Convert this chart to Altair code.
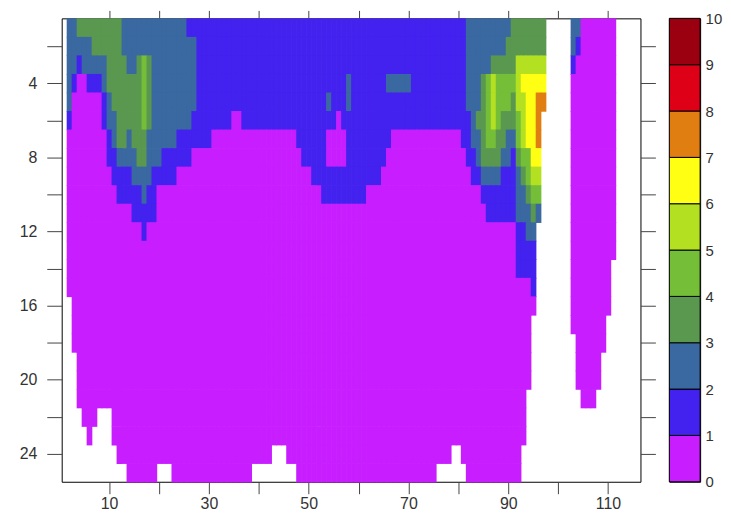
import altair as alt
import pandas as pd

# colour levels 0..9 (value bins 0-1, 1-2, ... 9-10)
LEVELS = list(range(10))
LEVEL_COLORS = ["#C81EFF", "#4321EF", "#3A68A0", "#5A9850", "#74BE38",
                "#B3E021", "#FFFF14", "#E07E12", "#DD0016", "#9A0010"]
CBAR_LABELS = list(range(0, 11))

X_TICKS = list(range(10, 111, 10))
Y_TICKS = list(range(2, 25, 2))

# each row: (first column, last column, level); columns 1..116, rows 1..25
ROW_01 = [(2, 3, 2), (4, 12, 3), (13, 25, 2), (26, 81, 1), (82, 90, 2), (91, 97, 3),
          (103, 104, 2), (105, 111, 0)]
ROW_02 = [(2, 6, 2), (7, 12, 3), (13, 27, 2), (28, 81, 1), (82, 89, 2), (90, 97, 3),
          (103, 103, 2), (104, 104, 1), (105, 111, 0)]
ROW_03 = [(2, 3, 2), (4, 4, 1), (5, 9, 2), (10, 13, 3), (14, 15, 2), (16, 16, 3), (17, 17, 4),
          (18, 18, 3), (19, 27, 2), (28, 81, 1), (82, 86, 2), (87, 91, 3), (92, 97, 5),
          (103, 103, 1), (104, 111, 0)]
ROW_04 = [(2, 2, 2), (3, 3, 1), (4, 5, 0), (6, 8, 1), (9, 9, 2), (10, 16, 3), (17, 17, 4),
          (18, 18, 3), (19, 27, 2), (28, 57, 1), (58, 58, 2), (59, 65, 1), (66, 70, 2),
          (71, 81, 1), (82, 84, 2), (85, 85, 3), (86, 86, 4), (87, 87, 5), (88, 91, 4),
          (92, 92, 5), (93, 97, 6), (103, 111, 0)]
ROW_05 = [(2, 2, 2), (3, 8, 0), (9, 9, 1), (10, 10, 2), (11, 16, 3), (17, 17, 4), (18, 18, 3),
          (19, 27, 2), (28, 53, 1), (54, 54, 2), (55, 57, 1), (58, 58, 2), (59, 81, 1),
          (82, 84, 2), (85, 85, 3), (86, 86, 4), (87, 87, 5), (88, 90, 4), (91, 91, 3),
          (92, 93, 5), (94, 95, 6), (96, 97, 7), (103, 111, 0)]
ROW_06 = [(2, 2, 1), (3, 8, 0), (9, 9, 1), (10, 11, 2), (12, 16, 3), (17, 17, 4), (18, 18, 3),
          (19, 26, 2), (27, 34, 1), (35, 36, 0), (37, 55, 1), (56, 56, 0), (57, 82, 1),
          (83, 83, 2), (84, 85, 3), (86, 86, 4), (87, 87, 5), (88, 88, 4), (89, 91, 3),
          (92, 92, 4), (93, 93, 5), (94, 95, 6), (96, 96, 7), (103, 111, 0)]
ROW_07 = [(2, 9, 0), (10, 10, 1), (11, 11, 2), (12, 13, 3), (14, 14, 2), (15, 17, 3),
          (18, 23, 2), (24, 30, 1), (31, 47, 0), (48, 53, 1), (54, 57, 0), (58, 66, 1),
          (67, 80, 0), (81, 82, 1), (83, 84, 2), (85, 85, 3), (86, 87, 4), (88, 89, 3),
          (90, 91, 2), (92, 92, 4), (93, 93, 5), (94, 95, 6), (96, 96, 7), (103, 111, 0)]
ROW_08 = [(2, 9, 0), (10, 11, 1), (12, 15, 2), (16, 17, 3), (18, 20, 2), (21, 26, 1),
          (27, 48, 0), (49, 53, 1), (54, 57, 0), (58, 65, 1), (66, 81, 0), (82, 83, 1),
          (84, 84, 2), (85, 88, 3), (89, 90, 2), (91, 91, 1), (92, 92, 3), (93, 94, 4),
          (95, 96, 6), (103, 111, 0)]
ROW_09 = [(2, 10, 0), (11, 14, 1), (15, 18, 2), (19, 23, 1), (24, 50, 0), (51, 64, 1),
          (65, 82, 0), (83, 84, 1), (85, 88, 2), (89, 91, 1), (92, 92, 2), (93, 93, 3),
          (94, 94, 4), (95, 96, 5), (103, 111, 0)]
ROW_10 = [(2, 11, 0), (12, 16, 1), (17, 17, 2), (18, 19, 1), (20, 52, 0), (53, 61, 1),
          (62, 84, 0), (85, 91, 1), (92, 93, 2), (94, 94, 3), (95, 96, 4), (103, 111, 0)]
ROW_11 = [(2, 14, 0), (15, 19, 1), (20, 85, 0), (86, 91, 1), (92, 94, 2), (95, 95, 3),
          (96, 96, 2), (103, 111, 0)]
ROW_12 = [(2, 16, 0), (17, 17, 1), (18, 91, 0), (92, 93, 1), (94, 95, 2), (103, 111, 0)]
ROW_13 = [(2, 91, 0), (92, 95, 1), (103, 111, 0)]
ROW_14 = [(2, 91, 0), (92, 95, 1), (103, 110, 0)]
ROW_15 = [(2, 94, 0), (95, 95, 1), (103, 110, 0)]
ROW_16 = [(3, 95, 0), (103, 110, 0)]
ROW_17 = [(3, 94, 0), (103, 109, 0)]
ROW_18 = [(3, 94, 0), (104, 109, 0)]
ROW_19 = [(4, 94, 0), (104, 108, 0)]
ROW_20 = [(4, 94, 0), (104, 108, 0)]
ROW_21 = [(4, 93, 0), (105, 107, 0)]
ROW_22 = [(5, 7, 0), (11, 93, 0)]
ROW_23 = [(6, 6, 0), (11, 93, 0)]
ROW_24 = [(12, 42, 0), (46, 78, 0), (81, 92, 0)]
ROW_25 = [(14, 19, 0), (23, 38, 0), (48, 75, 0), (82, 92, 0)]

ROWS = [ROW_01, ROW_02, ROW_03, ROW_04, ROW_05, ROW_06, ROW_07, ROW_08, ROW_09, ROW_10,
        ROW_11, ROW_12, ROW_13, ROW_14, ROW_15, ROW_16, ROW_17, ROW_18, ROW_19, ROW_20,
        ROW_21, ROW_22, ROW_23, ROW_24, ROW_25]

records = []
for j, segs in enumerate(ROWS, start=1):
    for a, b, lev in segs:
        for i in range(a, b + 1):
            records.append({"col": i, "row": j, "level": lev})
cells_df = pd.DataFrame(records)

FONT = "Liberation Sans"
LABEL_COLOR = "#333333"
TICK_COLOR = "#444444"

xscale = alt.Scale(domain=[0.5, 116.5], nice=False, zero=False)
yscale = alt.Scale(domain=[0.5, 25.5], nice=False, zero=False, reverse=True)
cscale = alt.Scale(domain=LEVELS, range=LEVEL_COLORS)

base = alt.Chart(cells_df).transform_calculate(
    x0="datum.col - 0.5", x1="datum.col + 0.5",
    y0="datum.row - 0.5", y1="datum.row + 0.5",
)

cells = base.mark_rect(strokeWidth=0, x2Offset=0.7, y2Offset=0.7).encode(
    x=alt.X("x0:Q", scale=xscale, title=None,
            axis=alt.Axis(orient="bottom", values=X_TICKS, tickSize=12, labelPadding=2,
                          labelExpr="datum.value % 20 == 10 ? datum.label : ''",
                          labelFlush=False, grid=False, domain=False,
                          labelFont=FONT, labelFontSize=16, labelColor=LABEL_COLOR,
                          tickColor=TICK_COLOR)),
    x2="x1:Q",
    y=alt.Y("y0:Q", scale=yscale, title=None,
            axis=alt.Axis(orient="left", values=Y_TICKS, tickSize=15, labelPadding=10,
                          labelExpr="datum.value % 4 == 0 ? datum.label : ''",
                          grid=False, domain=False,
                          labelFont=FONT, labelFontSize=16, labelColor=LABEL_COLOR,
                          tickColor=TICK_COLOR)),
    y2="y1:Q",
    color=alt.Color("level:O", scale=cscale, legend=None),
)

mirror = base.mark_rect(opacity=0).encode(
    x=alt.X("x0:Q", scale=xscale, title=None,
            axis=alt.Axis(orient="top", values=X_TICKS, tickSize=8, labels=False,
                          grid=False, domain=False, tickColor=TICK_COLOR)),
    x2="x1:Q",
    y=alt.Y("y0:Q", scale=yscale, title=None,
            axis=alt.Axis(orient="right", values=Y_TICKS, tickSize=15, labels=False,
                          grid=False, domain=False, tickColor=TICK_COLOR)),
    y2="y1:Q",
)

heat = alt.layer(cells, mirror).resolve_axis(x="independent", y="independent").properties(
    width=582, height=466
)

cbar_df = pd.DataFrame({
    "lo": LEVELS,
    "hi": [v + 1 for v in LEVELS],
    "c0": [0] * len(LEVELS),
    "c1": [1] * len(LEVELS),
})

cbar = alt.Chart(cbar_df).mark_rect(stroke="black", strokeWidth=1).encode(
    x=alt.X("c0:Q", scale=alt.Scale(domain=[0, 1], nice=False), axis=None),
    x2="c1:Q",
    y=alt.Y("lo:Q", scale=alt.Scale(domain=[0, 10], nice=False, zero=False), title=None,
            axis=alt.Axis(orient="right", values=CBAR_LABELS, tickSize=0, labelPadding=5,
                          labelFont=FONT, labelFontSize=15, labelColor=LABEL_COLOR,
                          grid=False, domain=False, ticks=False)),
    y2="hi:Q",
    color=alt.Color("lo:O", scale=cscale, legend=None),
).properties(width=31, height=466)

chart = alt.hconcat(heat, cbar, spacing=12).properties(
    padding={"left": 10, "top": 0, "right": 0, "bottom": 0},
    background="white",
).configure_view(
    stroke="black", strokeWidth=1
)

chart.save("out.html", embed_options={"renderer": "svg", "actions": False})
